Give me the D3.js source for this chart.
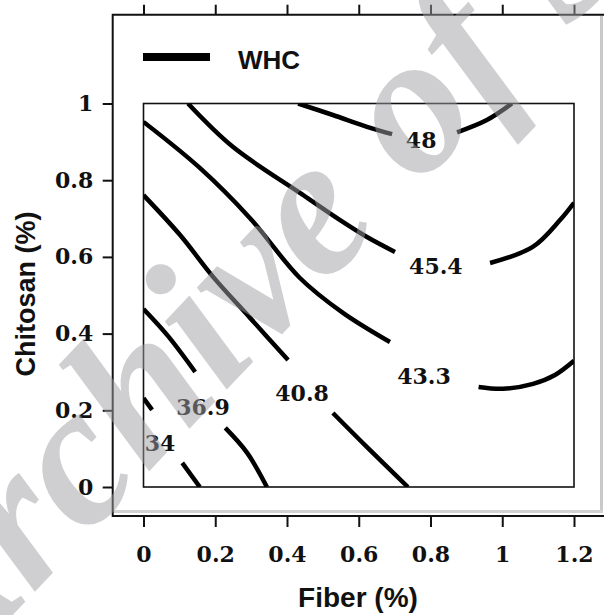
<!DOCTYPE html>
<html>
<head>
<meta charset="utf-8">
<script src="https://cdn.jsdelivr.net/npm/d3@7"></script>
<style>
  html, body { margin: 0; padding: 0; background: #fff; }
  svg { display: block; }
</style>
</head>
<body>
<svg id="chart" width="604" height="615"></svg>
<script>
// Axis ticks
const fiberTicks = [0, 0.2, 0.4, 0.6, 0.8, 1, 1.2];
const fiberTickLabels = ["0", "0.2", "0.4", "0.6", "0.8", "1", "1.2"];
const chitosanTicks = [0, 0.2, 0.4, 0.6, 0.8, 1];
const chitosanTickLabels = ["0", "0.2", "0.4", "0.6", "0.8", "1"];

// WHC contour levels, each traced as [fiber, chitosan] pairs, split where the label sits
const contourLevels = ["48", "45.4", "43.3", "40.8", "36.9", "34"];
const contourSegments = [
  [ [[0.431, 1.0], [0.528, 0.970], [0.623, 0.939], [0.693, 0.920]],
    [[0.874, 0.925], [0.957, 0.957], [1.027, 1.0]] ],
  [ [[0.124, 1.0], [0.249, 0.887], [0.436, 0.767], [0.548, 0.696], [0.623, 0.652], [0.701, 0.613]],
    [[0.966, 0.584], [1.085, 0.626], [1.161, 0.696], [1.2, 0.741]] ],
  [ [[0.0, 0.952], [0.157, 0.832], [0.297, 0.701], [0.436, 0.545], [0.556, 0.454], [0.687, 0.378]],
    [[0.934, 0.261], [1.002, 0.256], [1.086, 0.269], [1.147, 0.292], [1.2, 0.329]] ],
  [ [[0.0, 0.761], [0.102, 0.657], [0.194, 0.548], [0.297, 0.441], [0.403, 0.331]],
    [[0.528, 0.193], [0.623, 0.104], [0.737, 0.0]] ],
  [ [[0.0, 0.464], [0.068, 0.394], [0.144, 0.300]],
    [[0.228, 0.154], [0.289, 0.089], [0.344, 0.0]] ],
  [ [[0.0, 0.232], [0.024, 0.201]],
    [[0.108, 0.063], [0.157, 0.0]] ]
];
// Where each level's label is written, [fiber, chitosan]
const contourLabelAt = [
  [0.774, 0.905], [0.815, 0.576], [0.782, 0.289], [0.442, 0.245], [0.166, 0.209], [0.046, 0.115]
];

const legendName = "WHC";
const xTitle = "Fiber (%)";
const yTitle = "Chitosan (%)";
const watermark = "Archive of SID";

const svg = d3.select("#chart");
const x = d3.scaleLinear().domain([0, 1.2]).range([143.5, 574]);
const y = d3.scaleLinear().domain([0, 1]).range([487, 103.5]);

const frame = { left: 112.7, top: 14.7, right: 606, bottom: 516 };
const serif = "'DejaVu Serif', serif";
const sans = "'Liberation Sans', Arial, sans-serif";

// Light bevel inside the outer frame (right and bottom)
svg.append("line").attr("x1", 601.5).attr("x2", 601.5).attr("y1", frame.top + 1).attr("y2", frame.bottom - 3)
  .attr("stroke", "#c9c9c9").attr("stroke-width", 3);
svg.append("line").attr("x1", frame.left + 1).attr("x2", 603).attr("y1", frame.bottom - 4.5).attr("y2", frame.bottom - 4.5)
  .attr("stroke", "#d2d2d2").attr("stroke-width", 3);

// Outer frame: top, left, bottom
svg.append("path")
  .attr("d", `M${frame.right},${frame.top}H${frame.left}V${frame.bottom}H${frame.right}`)
  .attr("fill", "none").attr("stroke", "#111").attr("stroke-width", 2);

// Plot area box
svg.append("rect")
  .attr("x", x(0)).attr("y", y(1))
  .attr("width", x(1.2) - x(0)).attr("height", y(0) - y(1))
  .attr("fill", "none").attr("stroke", "#111").attr("stroke-width", 1.6);

// Axes
const bottomAxis = d3.axisBottom(x).tickValues(fiberTicks).tickSize(11).tickPadding(19)
  .tickFormat((d, i) => fiberTickLabels[i]);
const topAxis = d3.axisTop(x).tickValues(fiberTicks).tickSize(10).tickFormat("");
const leftAxis = d3.axisLeft(y).tickValues(chitosanTicks).tickSize(10).tickPadding(9.5)
  .tickFormat((d, i) => chitosanTickLabels[i]);

function styleAxis(g) {
  g.select(".domain").remove();
  g.selectAll(".tick line").attr("stroke", "#111").attr("stroke-width", 2);
  g.selectAll(".tick text").attr("fill", "#111")
    .style("font-family", serif).style("font-weight", "bold").style("font-size", "22px");
}
svg.append("g").attr("transform", `translate(0,${frame.bottom})`).call(bottomAxis).call(styleAxis);
svg.append("g").attr("transform", `translate(0,${frame.top})`).call(topAxis).call(styleAxis);
svg.append("g").attr("transform", `translate(${frame.left},0)`).call(leftAxis).call(styleAxis);

// Axis titles
svg.append("text").text(xTitle)
  .attr("x", 358).attr("y", 607).attr("text-anchor", "middle")
  .style("font-family", sans).style("font-weight", "bold").style("font-size", "28px").attr("fill", "#111");
svg.append("text").text(yTitle)
  .attr("transform", "translate(35,294) rotate(-90)").attr("text-anchor", "middle")
  .style("font-family", sans).style("font-weight", "bold").style("font-size", "27px").attr("fill", "#111");

// Legend
svg.append("line").attr("x1", 143).attr("x2", 210).attr("y1", 57).attr("y2", 57)
  .attr("stroke", "#000").attr("stroke-width", 8);
svg.append("text").text(legendName).attr("x", 238).attr("y", 69)
  .style("font-family", sans).style("font-weight", "bold").style("font-size", "26px").attr("fill", "#111");

// Contour lines
svg.append("clipPath").attr("id", "plotClip").append("rect")
  .attr("x", x(0)).attr("y", y(1)).attr("width", x(1.2) - x(0)).attr("height", y(0) - y(1));
const line = d3.line().x(d => x(d[0])).y(d => y(d[1])).curve(d3.curveCatmullRom.alpha(0.5));
const contours = svg.append("g").attr("clip-path", "url(#plotClip)");
contourSegments.forEach(segs => {
  segs.forEach(seg => {
    contours.append("path").attr("d", line(seg))
      .attr("fill", "none").attr("stroke", "#000").attr("stroke-width", 4.5);
  });
});

// Contour labels
svg.append("g").selectAll("text").data(contourLevels).join("text")
  .text(d => d)
  .attr("x", (d, i) => x(contourLabelAt[i][0]))
  .attr("y", (d, i) => y(contourLabelAt[i][1]))
  .attr("dy", "0.36em").attr("text-anchor", "middle")
  .style("font-family", serif).style("font-weight", "bold").style("font-size", "22px").attr("fill", "#111");

// Diagonal watermark over the figure: the "e" of "Archive" is centred on (328, 216)
const wmSize = 200, wmAngle = -46.5;
const rad = wmAngle * Math.PI / 180;
const dir = [Math.cos(rad), Math.sin(rad)];
const up = [Math.sin(rad), -Math.cos(rad)];
const eCentre = [328, 216];
const base = [
  eCentre[0] - 0.23 * wmSize * up[0] - 0.06 * wmSize * dir[0],
  eCentre[1] - 0.23 * wmSize * up[1] - 0.06 * wmSize * dir[1]
];
const wm = svg.append("g").attr("transform", `translate(${base[0]},${base[1]}) rotate(${wmAngle})`);
const wmText = wm.append("text").text(watermark)
  .style("font-family", "'Liberation Serif', 'Times New Roman', serif")
  .style("font-style", "italic").style("font-weight", "bold").style("font-size", wmSize + "px")
  .attr("fill", "#a0a0a6").attr("fill-opacity", 0.5);
const n = wmText.node();
wmText.attr("x", -(n.getSubStringLength(0, 6) + n.getSubStringLength(6, 1) / 2));
</script>
</body>
</html>
